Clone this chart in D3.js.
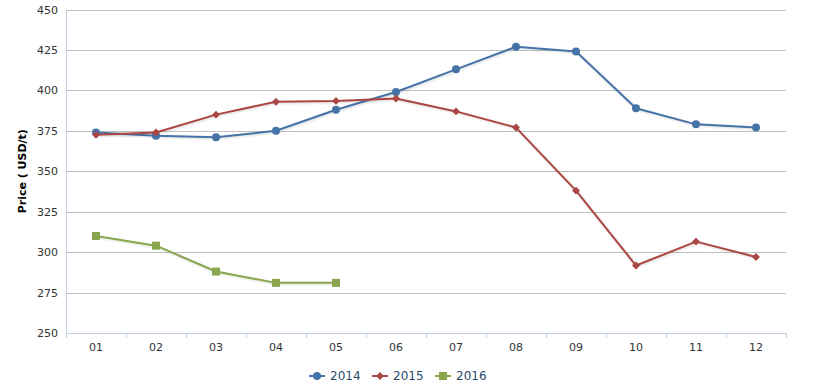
<!DOCTYPE html>
<html><head><meta charset="utf-8">
<script src="https://cdn.jsdelivr.net/npm/d3@7/dist/d3.min.js"></script>
<style>body{margin:0;background:#fff;}svg{display:block;font-family:"DejaVu Sans",Verdana,sans-serif;}</style>
</head><body><svg id="c" width="815" height="392"></svg>
<script>
const months = ["01","02","03","04","05","06","07","08","09","10","11","12"];
const s2014 = [374,372,371,375,388,399,413,427,424,389,379,377];
const s2015 = [372.5,374,385,393,393.5,395,387,377,338,291.7,306.5,297];
const s2016 = [310,304,288,281,281];
const yTicks = [250,275,300,325,350,375,400,425,450];
const seriesNames = ["2014","2015","2016"];
const colors = ["#4572A7","#AA4643","#89A54E"];
const symbols = ["circle","diamond","square"];

const svg = d3.select("#c");
const L=66,R=786,T=9.5,B=333;
const x = d3.scaleBand().domain(months).range([L,R]);
const y = d3.scaleLinear().domain([250,450]).range([B,T]);

const defs = svg.append("defs");
const f = defs.append("filter").attr("id","sh").attr("x","-10%").attr("y","-10%").attr("width","120%").attr("height","130%");
f.append("feDropShadow").attr("dx",1).attr("dy",1).attr("stdDeviation",1).attr("flood-color","#000").attr("flood-opacity",0.15);

// grid
svg.append("g").selectAll("line").data(yTicks).join("line")
  .attr("x1",L).attr("x2",R).attr("y1",d=>Math.round(y(d))+0.5).attr("y2",d=>Math.round(y(d))+0.5)
  .attr("stroke","#C0C0C0").attr("stroke-width",1);

// y labels
const yAxis = d3.axisLeft(y).tickValues(yTicks).tickSize(0).tickPadding(8);
const gy = svg.append("g").attr("transform",`translate(${L},0)`).call(yAxis);
gy.select(".domain").remove();
gy.selectAll("text").attr("font-size",11).attr("fill","#333").attr("font-family","DejaVu Sans, Verdana, sans-serif");
svg.append("line").attr("x1",L+0.5).attr("x2",L+0.5).attr("y1",T).attr("y2",B).attr("stroke","#C0D0E0");

// x axis
const xAxis = d3.axisBottom(x).tickSize(0).tickPadding(10);
const gx = svg.append("g").attr("transform",`translate(0,${B})`).call(xAxis);
gx.select(".domain").remove();
gx.selectAll("text").attr("font-size",11).attr("fill","#333").attr("font-family","DejaVu Sans, Verdana, sans-serif");
svg.append("line").attr("x1",L).attr("x2",R).attr("y1",B+0.5).attr("y2",B+0.5).attr("stroke","#C0D0E0");
const edges = months.map(m=>x(m)).concat([R]);
svg.append("g").selectAll("line").data(edges).join("line")
  .attr("x1",d=>Math.round(d)+0.5).attr("x2",d=>Math.round(d)+0.5).attr("y1",B).attr("y2",B+5).attr("stroke","#C0D0E0");

// title
svg.append("text").attr("transform",`translate(26,${(T+B)/2}) rotate(-90)`).attr("text-anchor","middle")
  .attr("font-size",11).attr("font-weight","bold").attr("fill","#000").text("Price ( USD/t)");

const cx = m=>x(m)+x.bandwidth()/2;
const line = d3.line().x((d,i)=>cx(months[i])).y(d=>y(d));
const data = [s2014,s2015,s2016];
const symGen = {circle:d3.symbol(d3.symbolCircle,50),diamond:d3.symbol(d3.symbolDiamond2,40),square:d3.symbol(d3.symbolSquare,64)};
data.forEach((s,k)=>{
  const g = svg.append("g");
  g.append("path").attr("d",line(s)).attr("fill","none").attr("stroke",colors[k]).attr("stroke-width",2).attr("filter","url(#sh)").attr("stroke-linejoin","round");
  g.selectAll("path.m").data(s).join("path").attr("class","m")
    .attr("transform",(d,i)=>`translate(${cx(months[i])},${y(d)})`)
    .attr("d",symGen[symbols[k]]()).attr("fill",colors[k]);
});

// legend
const lg = svg.append("g");
const lx=[309,372,435], ly=376;
seriesNames.forEach((n,k)=>{
  lg.append("line").attr("x1",lx[k]).attr("x2",lx[k]+16).attr("y1",ly).attr("y2",ly).attr("stroke",colors[k]).attr("stroke-width",2);
  lg.append("path").attr("transform",`translate(${lx[k]+8},${ly})`).attr("d",symGen[symbols[k]]()).attr("fill",colors[k]);
  lg.append("text").attr("x",lx[k]+21).attr("y",ly+4).attr("font-size",12).attr("fill","#274b6d").text(n);
});
</script></body></html>
